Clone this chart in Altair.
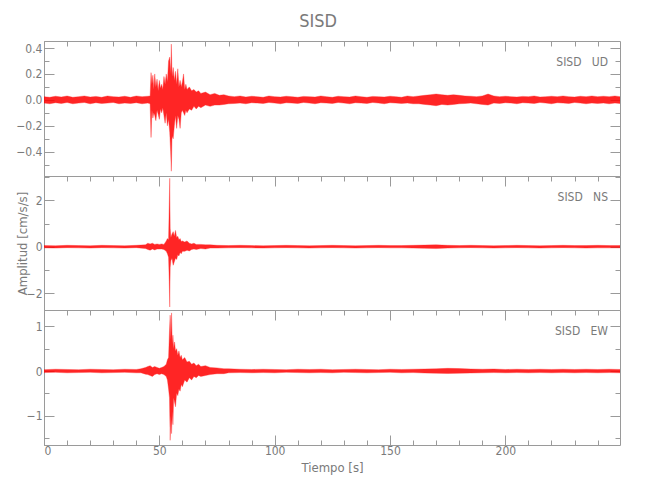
import altair as alt
import pandas as pd

# ---------------- data ----------------
# UD component: pre-event noise, event, coda/tail
ud_t_pre = [0, 2.5, 5, 7.5, 10, 12.5, 15, 17.5, 20, 22.5, 25, 27.5, 30, 32.5, 35, 37.5, 40, 42.5, 45]
ud_hi_pre = [0.025, 0.02, 0.028, 0.022, 0.03, 0.02, 0.025, 0.03, 0.022, 0.027,
             0.02, 0.03, 0.025, 0.022, 0.028, 0.02, 0.03, 0.025, 0.028]
ud_lo_pre = [-0.025, -0.03, -0.022, -0.028, -0.02, -0.03, -0.025, -0.02, -0.03, -0.022,
             -0.028, -0.025, -0.02, -0.03, -0.025, -0.028, -0.022, -0.03, -0.025]

ud_t_evt = [46, 46.4, 46.8, 47.2, 47.6, 48.0, 48.5, 49.0, 49.5, 50.0,
            50.5, 51.0, 51.5, 52.0, 52.5, 53.0, 53.5, 54.0, 54.5, 54.9,
            55.2, 55.5, 56.0, 56.5, 57.0, 57.5, 58.0, 58.5, 59.0, 59.5,
            60.0, 60.5, 61.0, 61.5, 62.0, 63, 64, 65, 66, 67,
            68, 70, 72, 74, 76, 78, 80]
ud_hi_evt = [0.03, 0.21, 0.12, 0.19, 0.08, 0.2, 0.1, 0.16, 0.07, 0.15,
             0.09, 0.12, 0.08, 0.18, 0.12, 0.2, 0.14, 0.3, 0.33, 0.2,
             0.43, 0.18, 0.25, 0.15, 0.22, 0.12, 0.24, 0.1, 0.15, 0.1,
             0.14, 0.2, 0.08, 0.12, 0.08, 0.1, 0.07, 0.08, 0.06, 0.07,
             0.05, 0.06, 0.04, 0.05, 0.035, 0.04, 0.03]
ud_lo_evt = [-0.03, -0.29, -0.08, -0.14, -0.1, -0.12, -0.16, -0.08, -0.11, -0.15,
             -0.07, -0.1, -0.06, -0.12, -0.18, -0.1, -0.2, -0.15, -0.25, -0.4,
             -0.55, -0.28, -0.3, -0.2, -0.12, -0.22, -0.12, -0.15, -0.22, -0.1,
             -0.08, -0.1, -0.12, -0.08, -0.1, -0.07, -0.08, -0.05, -0.07, -0.05,
             -0.06, -0.04, -0.05, -0.04, -0.04, -0.035, -0.03]

ud_t_tail = [82.5, 85, 87.5, 90, 92.5, 95, 97.5, 100, 102.5, 105,
             107.5, 110, 112.5, 115, 117.5, 120, 122.5, 125, 127.5, 130,
             132.5, 135, 137.5, 140, 142.5, 145, 147.5, 150, 152.5, 155,
             157.5, 160, 162.5, 165, 167.5, 170, 172.5, 175, 177.5, 180,
             182.5, 185, 187.5, 190, 192.5, 195, 197.5, 200, 202.5, 205,
             207.5, 210, 212.5, 215, 217.5, 220, 222.5, 225, 227.5, 230,
             232.5, 235, 237.5, 240, 242.5, 245, 247.5, 249.7]
ud_hi_tail = [0.025, 0.03, 0.022, 0.028, 0.025, 0.02, 0.03, 0.025, 0.022, 0.028,
              0.025, 0.02, 0.027, 0.025, 0.022, 0.03, 0.025, 0.02, 0.028, 0.025,
              0.022, 0.03, 0.025, 0.02, 0.027, 0.025, 0.022, 0.028, 0.025, 0.02,
              0.03, 0.025, 0.03, 0.035, 0.04, 0.045, 0.04, 0.035, 0.04, 0.035,
              0.03, 0.028, 0.025, 0.03, 0.045, 0.03, 0.025, 0.028, 0.025, 0.022,
              0.027, 0.025, 0.03, 0.022, 0.025, 0.028, 0.025, 0.03, 0.025, 0.022,
              0.028, 0.025, 0.03, 0.025, 0.028, 0.025, 0.03, 0.025]
ud_lo_tail = [-0.028, -0.025, -0.03, -0.022, -0.025, -0.028, -0.02, -0.025, -0.03, -0.022,
              -0.025, -0.028, -0.02, -0.025, -0.03, -0.022, -0.025, -0.028, -0.02, -0.025,
              -0.03, -0.022, -0.025, -0.028, -0.02, -0.025, -0.03, -0.022, -0.025, -0.028,
              -0.025, -0.03, -0.03, -0.035, -0.04, -0.045, -0.035, -0.04, -0.035, -0.03,
              -0.028, -0.025, -0.03, -0.035, -0.04, -0.025, -0.028, -0.022, -0.025, -0.03,
              -0.022, -0.025, -0.028, -0.02, -0.025, -0.03, -0.022, -0.025, -0.028, -0.02,
              -0.025, -0.03, -0.025, -0.028, -0.025, -0.03, -0.025, -0.028]

# NS component
ns_t = [0, 5, 10, 15, 20, 25, 30, 35, 40,
        44, 45, 46, 47, 48, 49, 50, 51, 52, 53,
        53.5, 54.0, 54.3, 54.5, 54.7, 55.0, 55.5, 56.0, 56.5, 57.0,
        57.5, 58.0, 58.5, 59.0, 59.5, 60.0, 61, 62, 63, 64,
        65, 66, 68, 70, 72, 75, 80, 85, 90, 95,
        100, 105, 110, 115, 120, 125, 130, 135, 140, 145,
        150, 155, 160, 165, 170, 175, 180, 185, 190, 195,
        200, 205, 210, 215, 220, 225, 230, 235, 240, 245,
        249.7]
ns_hi = [0.05, 0.04, 0.06, 0.05, 0.04, 0.06, 0.05, 0.04, 0.06,
         0.08, 0.15, 0.12, 0.15, 0.1, 0.12, 0.1, 0.12, 0.1, 0.25,
         0.35, 0.3, 1.8, 2.95, 0.8, 0.4, 0.55, 0.65, 0.45, 0.7,
         0.4, 0.45, 0.3, 0.35, 0.22, 0.25, 0.2, 0.25, 0.15, 0.12,
         0.15, 0.1, 0.1, 0.08, 0.08, 0.06, 0.05, 0.06, 0.05, 0.04,
         0.05, 0.06, 0.05, 0.04, 0.05, 0.06, 0.05, 0.04, 0.05, 0.06,
         0.05, 0.05, 0.06, 0.07, 0.08, 0.06, 0.05, 0.06, 0.05, 0.04,
         0.05, 0.06, 0.05, 0.04, 0.05, 0.06, 0.05, 0.05, 0.06, 0.05,
         0.05]
ns_lo = [-0.05, -0.06, -0.04, -0.05, -0.06, -0.04, -0.05, -0.06, -0.04,
         -0.08, -0.12, -0.15, -0.1, -0.14, -0.1, -0.1, -0.1, -0.12, -0.2,
         -0.3, -0.45, -1.5, -2.6, -0.9, -0.6, -0.5, -0.8, -0.65, -0.5,
         -0.55, -0.35, -0.4, -0.25, -0.3, -0.2, -0.2, -0.15, -0.18, -0.12,
         -0.1, -0.12, -0.08, -0.1, -0.06, -0.06, -0.05, -0.04, -0.05, -0.06,
         -0.05, -0.04, -0.05, -0.06, -0.05, -0.04, -0.05, -0.06, -0.05, -0.04,
         -0.05, -0.05, -0.06, -0.07, -0.08, -0.06, -0.05, -0.04, -0.05, -0.06,
         -0.05, -0.04, -0.05, -0.06, -0.05, -0.04, -0.05, -0.06, -0.05, -0.05,
         -0.05]

# EW component
ew_t = [0, 5, 10, 15, 20, 25, 30, 35, 40,
        42, 44, 45, 46, 47, 48, 49, 50, 51, 52,
        53, 53.5, 54.0, 54.4, 54.7, 55.0, 55.3, 55.6, 55.9, 56.2,
        56.6, 57.0, 57.5, 58.0, 58.5, 59.0, 59.5, 60.0, 61, 62,
        63, 64, 65, 66, 67, 68, 70, 72, 75, 78,
        80, 85, 90, 95, 100, 105, 110, 115, 120, 125,
        130, 135, 140, 145, 150, 155, 160, 165, 170, 175,
        180, 185, 190, 195, 200, 205, 210, 215, 220, 225,
        230, 235, 240, 245,
        249.7]
ew_hi = [0.03, 0.04, 0.035, 0.03, 0.04, 0.035, 0.03, 0.04, 0.035,
         0.05, 0.08, 0.1, 0.12, 0.08, 0.1, 0.08, 0.06, 0.08, 0.1,
         0.15, 0.25, 0.3, 0.9, 1.25, 0.7, 1.3, 0.6, 0.8, 0.5,
         0.65, 0.45, 0.5, 0.35, 0.45, 0.3, 0.35, 0.25, 0.3, 0.2,
         0.22, 0.15, 0.18, 0.12, 0.15, 0.1, 0.12, 0.08, 0.07, 0.05,
         0.05, 0.04, 0.035, 0.04, 0.035, 0.03, 0.04, 0.035, 0.04, 0.03,
         0.035, 0.04, 0.035, 0.03, 0.04, 0.035, 0.04, 0.045, 0.05, 0.06,
         0.055, 0.045, 0.04, 0.045, 0.035, 0.04, 0.035, 0.04, 0.035, 0.04,
         0.035, 0.04, 0.035, 0.04,
         0.035]
ew_lo = [-0.035, -0.03, -0.04, -0.035, -0.03, -0.04, -0.035, -0.03, -0.04,
         -0.04, -0.07, -0.08, -0.1, -0.12, -0.08, -0.06, -0.08, -0.06, -0.08,
         -0.12, -0.2, -0.4, -0.6, -1.55, -1.0, -1.4, -0.9, -1.2, -0.6,
         -0.7, -0.8, -0.5, -0.55, -0.4, -0.45, -0.3, -0.35, -0.2, -0.25,
         -0.15, -0.2, -0.12, -0.15, -0.1, -0.12, -0.1, -0.08, -0.06, -0.06,
         -0.04, -0.035, -0.04, -0.035, -0.04, -0.03, -0.035, -0.04, -0.035, -0.04,
         -0.03, -0.035, -0.04, -0.035, -0.03, -0.04, -0.035, -0.045, -0.05, -0.055,
         -0.05, -0.045, -0.04, -0.035, -0.04, -0.035, -0.04, -0.035, -0.04, -0.035,
         -0.04, -0.035, -0.04, -0.035,
         -0.04]

x_major = [0, 50, 100, 150, 200]
x_minor = list(range(0, 250, 10))

ud_major = [-0.4, -0.2, 0.0, 0.2, 0.4]
ud_minor = [-0.5, -0.4, -0.3, -0.2, -0.1, 0.0, 0.1, 0.2, 0.3, 0.4]
ns_major = [-2, 0, 2]
ns_minor = [-2, -1, 0, 1, 2, 3]
ew_major = [-1, 0, 1]
ew_minor = [-1.5, -1, -0.5, 0, 0.5, 1]

ud_t = ud_t_pre + ud_t_evt + ud_t_tail
ud_hi = ud_hi_pre + ud_hi_evt + ud_hi_tail
ud_lo = ud_lo_pre + ud_lo_evt + ud_lo_tail

# ---------------- styling ----------------
W = 576
X_MAX = 249.7
FONT = "Liberation Sans Narrow, DejaVu Sans Condensed, Arial Narrow, sans-serif"
TXT = "#7a7a7a"
LN = "#9a9a9a"
RED = "#ff0000"


def tick_axis(orient, offset, values, size):
    return alt.Axis(orient=orient, offset=offset, values=values, tickSize=size, labels=False,
                    domain=False, grid=False, title=None, tickColor=LN, tickWidth=1,
                    minExtent=0)


def panel(t, hi, lo, ydom, ymajor, yminor, fmt, label, height, bottom=False, ytitle=False):
    df = pd.DataFrame({"t": t, "hi": hi, "lo": lo})
    xs = alt.Scale(domain=[0, X_MAX], nice=False, zero=False)
    ys = alt.Scale(domain=ydom, nice=False, zero=False)

    if bottom:
        xaxis = alt.Axis(orient="bottom", values=x_major, ticks=False, domain=False, grid=False,
                         labelPadding=0, title="Tiempo [s]", titleX=W / 2, titleY=22,
                         titleBaseline="middle", titleFont=FONT, titleFontSize=13,
                         titleFontWeight="normal", titleColor=TXT)
    else:
        xaxis = None

    yargs = dict(orient="left", values=ymajor, format=fmt, ticks=False, domain=False, grid=False,
                 labelPadding=2)
    if ytitle:
        yargs.update(title="Amplitud [cm/s/s]", titleX=-22, titleY=height / 2, titleAngle=270,
                     titleAlign="center", titleBaseline="middle", titleFont=FONT, titleFontSize=13,
                     titleFontWeight="normal", titleColor=TXT)
    else:
        yargs.update(title=None)
    yaxis = alt.Axis(**yargs)

    base = alt.Chart(df)
    layers = [base.mark_area(color=RED, opacity=0.85, stroke=RED, strokeWidth=0.5,
                             strokeOpacity=0.7, clip=True).encode(
        x=alt.X("t:Q", scale=xs, axis=xaxis),
        y=alt.Y("hi:Q", scale=ys, axis=yaxis),
        y2="lo:Q",
    )]

    def ghost(xaxis_, yaxis_):
        return base.mark_area(opacity=0, clip=True).encode(
            x=alt.X("t:Q", scale=xs, axis=xaxis_),
            y=alt.Y("hi:Q", scale=ys, axis=yaxis_),
        )

    # ticks on the top edge (pointing down) and on the right edge (pointing left)
    layers.append(ghost(tick_axis("bottom", -height, x_minor, 5),
                        tick_axis("left", -W, yminor, 5)))
    layers.append(ghost(tick_axis("bottom", -height, x_major, 10),
                        tick_axis("left", -W, ymajor, 10)))
    # ticks on the left edge (pointing right), and on the bottom edge for the last panel
    layers.append(ghost(tick_axis("top", -height, x_minor, 5) if bottom else None,
                        tick_axis("right", -W, yminor, 5)))
    layers.append(ghost(tick_axis("top", -height, x_major, 10) if bottom else None,
                        tick_axis("right", -W, ymajor, 10)))

    layers.append(alt.Chart(pd.DataFrame({"label": [label]})).mark_text(
        align="right", baseline="middle", font=FONT, fontSize=12, color=TXT
    ).encode(x=alt.value(W - 12), y=alt.value(21), text="label:N"))

    return alt.layer(*layers).resolve_axis(
        x="independent", y="independent"
    ).properties(width=W, height=height)


NB = "\u00a0\u00a0\u00a0"
p1 = panel(ud_t, ud_hi, ud_lo, [-0.587, 0.454], ud_major, ud_minor, ".1f", "SISD" + NB + "UD", 135)
p2 = panel(ns_t, ns_hi, ns_lo, [-2.73, 3.05], ns_major, ns_minor, "d", "SISD" + NB + "NS", 134,
           ytitle=True)
p3 = panel(ew_t, ew_hi, ew_lo, [-1.655, 1.365], ew_major, ew_minor, "d", "SISD" + NB + "EW", 135,
           bottom=True)

chart = alt.vconcat(p1, p2, p3, spacing=0, bounds="flush").properties(
    title=alt.TitleParams("SISD", font=FONT, fontSize=18, fontWeight="normal", color=TXT,
                          anchor="middle", offset=9),
    padding={"left": 7, "top": 5, "right": 5, "bottom": 5},
).configure_view(stroke=LN, strokeWidth=1).configure_axis(
    labelFont=FONT, labelFontSize=12, labelColor=TXT
)

chart.save("out.html", embed_options={"renderer": "svg", "actions": False})
